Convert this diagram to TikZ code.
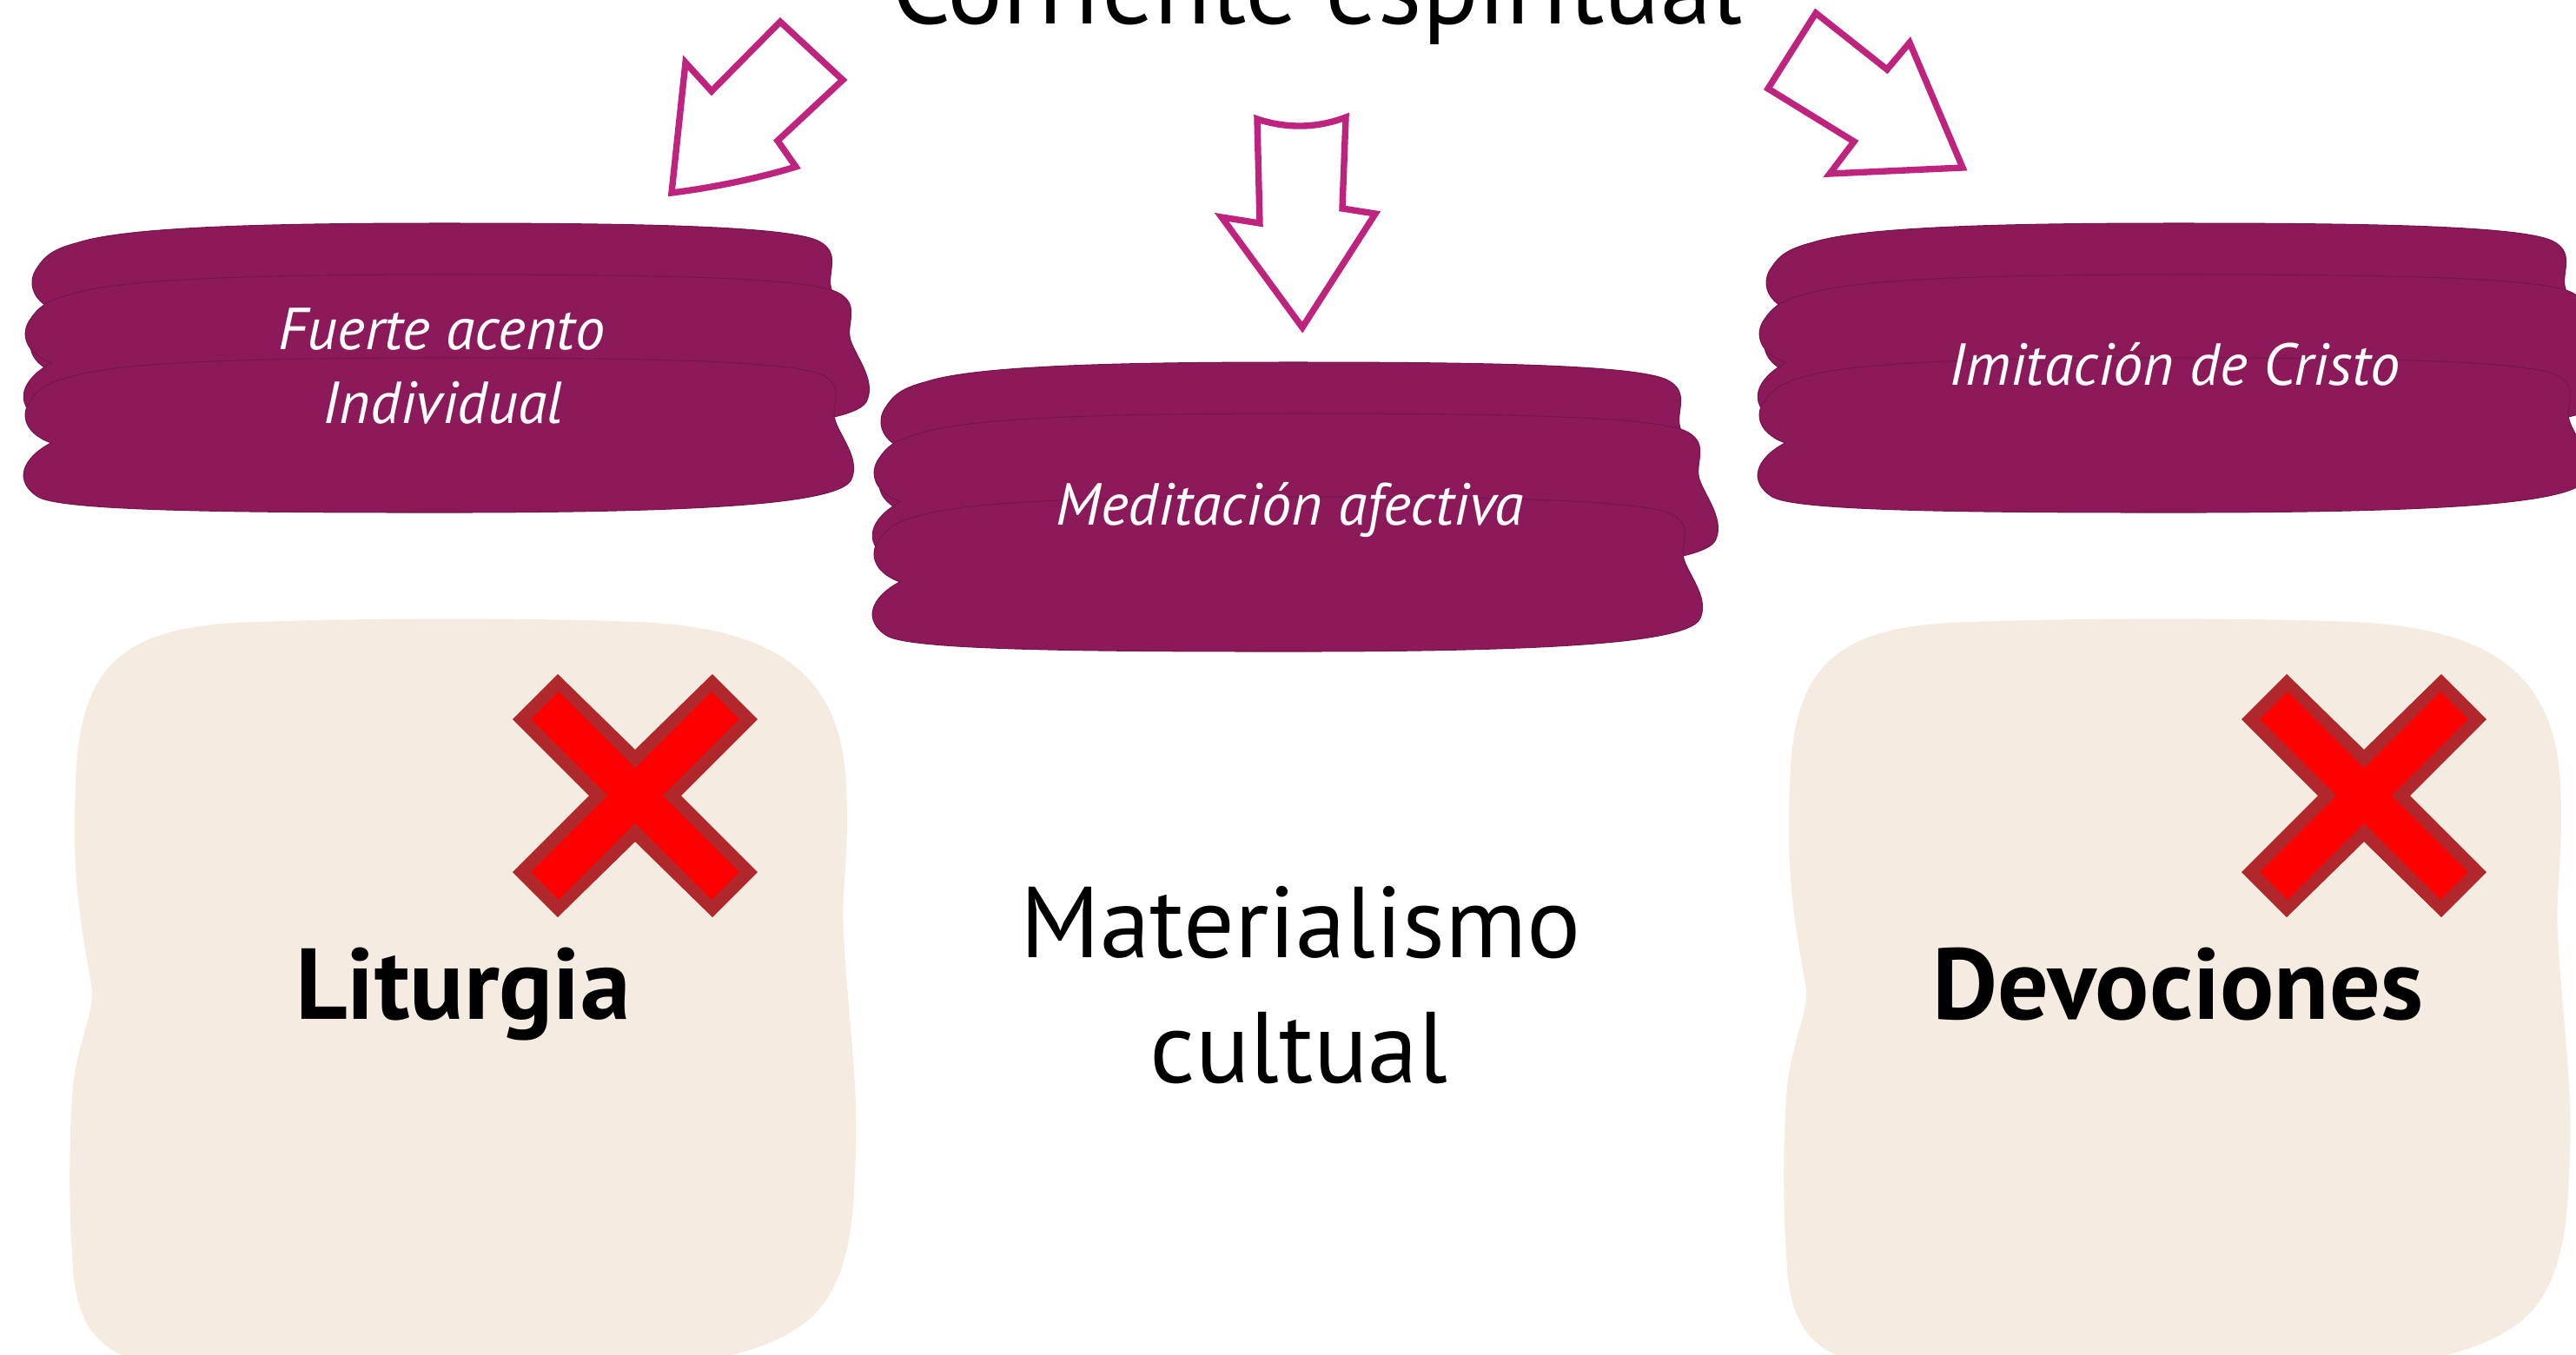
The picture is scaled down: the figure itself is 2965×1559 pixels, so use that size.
\documentclass[tikz,border=0pt]{standalone}
\usepackage{fontspec}
\setmainfont{PT Sans}
\definecolor{plum}{RGB}{140,26,91}
\definecolor{plumline}{RGB}{118,21,76}
\definecolor{arrowpink}{RGB}{190,35,125}
\definecolor{beige}{RGB}{244,236,224}
\definecolor{xred}{RGB}{255,0,0}
\definecolor{xborder}{RGB}{176,40,44}
\tikzset{
  layer/.style={fill=plum, draw=plumline, line width=0.3pt},
  hollowarrow/.style={draw=arrowpink, line width=2.1pt, line join=miter, fill=white},
  cardbox/.style={fill=beige},
  blobtext/.style={text=white, inner sep=0pt, anchor=base, font=\fontsize{19.4pt}{23pt}\selectfont\itshape},
  bigtext/.style={text=black, inner sep=0pt, anchor=base, font=\fontsize{33pt}{40pt}\selectfont},
  boldtext/.style={text=black, inner sep=0pt, anchor=base, font=\fontsize{33pt}{37pt}\selectfont\bfseries}
}
\newcommand\pillow[4]{%
\begin{scope}[shift={(#1,#2)}, xscale=#3, yscale=#4]
\path[layer] (0.06,0.12) .. controls (0.12,0.02) and (0.3,0.0) .. (0.5,0.0)
 .. controls (0.7,0.0) and (0.9,0.01) .. (0.95,0.1)
 .. controls (0.985,0.17) and (0.965,0.3) .. (0.97,0.4)
 .. controls (0.975,0.5) and (1.0,0.65) .. (0.99,0.78)
 .. controls (0.98,0.95) and (0.8,1.0) .. (0.5,1.0)
 .. controls (0.25,1.0) and (0.05,0.99) .. (0.02,0.9)
 .. controls (-0.01,0.8) and (0.0,0.65) .. (0.035,0.55)
 .. controls (0.0,0.48) and (0.0,0.35) .. (0.01,0.28)
 .. controls (0.02,0.2) and (0.03,0.16) .. (0.06,0.12) -- cycle;
\end{scope}}
\newcommand\plumstack[2]{%
\begin{scope}[shift={(#1,#2)}]
\pillow{33}{257}{952}{185}
\pillow{25}{316}{983}{185}
\pillow{25}{412}{965}{178}
\end{scope}}
\newcommand\cardshape[1]{%
\begin{scope}[shift={(#1,0)}]
\path[cardbox] (268,717) .. controls (420,711) and (600,711) .. (737,716)
 .. controls (900,724) and (968,780) .. (974,904)
 .. controls (978,980) and (968,1030) .. (971,1072)
 .. controls (976,1180) and (990,1250) .. (984,1350)
 .. controls (982,1440) and (965,1490) .. (930,1520)
 .. controls (890,1552) and (840,1562) .. (790,1570)
 -- (180,1570)
 .. controls (110,1562) and (88,1520) .. (84,1460)
 .. controls (78,1380) and (80,1300) .. (84,1250)
 .. controls (90,1200) and (108,1165) .. (106,1140)
 .. controls (100,1100) and (86,1040) .. (86,960)
 .. controls (86,870) and (90,830) .. (110,790)
 .. controls (140,735) and (200,722) .. (268,717) -- cycle;
\end{scope}}
\newcommand\redcross[2]{%
\begin{scope}[shift={(#1,#2)}]
\fill[xborder] (0,-53)--(89,-140)--(141,-88)--(53,0)--(141,88)--(89,140)--(0,53)--(-89,140)--(-141,88)--(-53,0)--(-141,-88)--(-89,-140)--cycle;
\fill[xred] (0,-31.8)--(88,-119.8)--(119.8,-88)--(31.8,0)--(119.8,88)--(88,119.8)--(0,31.8)--(-88,119.8)--(-119.8,88)--(-31.8,0)--(-119.8,-88)--(-88,-119.8)--cycle;
\end{scope}}
\begin{document}
\begin{tikzpicture}[x=0.01cm, y=-0.01cm]
\useasboundingbox (0,0) rectangle (2965,1559);
\clip (0,0) rectangle (2965,1559);
\fill[white] (0,0) rectangle (2965,1559);

% title (cut off at the top edge, as in the reference)
\node[bigtext, font=\fontsize{34pt}{40pt}\selectfont] (title) at (1516,27) {Corriente espiritual};

% hollow arrows
\draw[hollowarrow] (773,222) -- (789,72) -- (819,105) -- (898,25) -- (970,92) -- (895,162) -- (916,192) .. controls (870,206) and (820,216) .. (773,222) -- cycle;
\draw[hollowarrow] (1447,137) .. controls (1480,148) and (1515,148) .. (1549,135) -- (1545,240) -- (1583,246) -- (1499,377) -- (1406,250) -- (1450,257) -- cycle;
\draw[hollowarrow] (2090,15) -- (2035,102) -- (2134,163) -- (2106,200) -- (2259,193) -- (2198,49) -- (2172,80) -- cycle;

% purple stacks
\plumstack{0}{0}
\plumstack{977}{160}
\plumstack{1996}{0}

\node[blobtext] (fuerte) at (508,402) {Fuerte acento};
\node[blobtext] (indiv) at (510,487) {Individual};
\node[blobtext] (medit) at (1485,604) {Meditación afectiva};
\node[blobtext] (imit) at (2503,443) {Imitación de Cristo};

% beige cards
\cardshape{0}
\cardshape{1973}
\redcross{731}{916}
\redcross{2721}{916}
\node[boldtext] (liturgia) at (533,1173) {Liturgia};
\node[boldtext] (devociones) at (2507,1173) {Devociones};

% centre text
\node[bigtext] (mater) at (1497,1102) {Materialismo};
\node[bigtext] (cultual) at (1495,1246) {cultual};
\end{tikzpicture}
\end{document}
